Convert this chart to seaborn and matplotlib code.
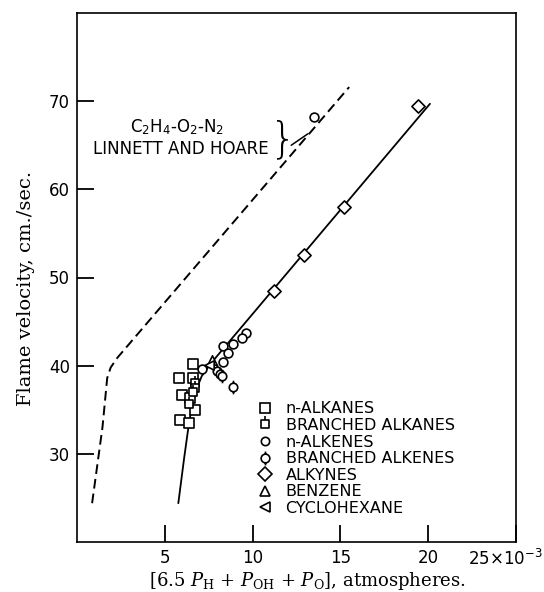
import numpy as np
import pandas as pd
import matplotlib
matplotlib.use("Agg")
import matplotlib.pyplot as plt
import matplotlib.transforms as mtransforms
from matplotlib.path import Path
from matplotlib.lines import Line2D
import seaborn as sns

# ---------------- data (x in 10^-3 atm, y in cm/sec) ----------------
lh_x = [0.86, 1.45, 1.72, 1.92, 2.3, 15.5]          # Linnett & Hoare C2H4-O2-N2 (dashed)
lh_y = [24.4, 33.0, 38.6, 39.8, 40.9, 71.6]
fit_x = [5.77, 6.1, 6.4, 6.7, 7.1, 7.6, 20.1]        # solid curve
fit_y = [24.4, 29.5, 33.8, 36.8, 38.8, 40.2, 69.7]

n_alkanes_x = [6.63, 5.83, 6.6, 6.0, 6.46, 6.7, 5.89, 6.4]
n_alkanes_y = [40.2, 38.6, 38.6, 36.7, 36.3, 35.0, 33.8, 33.5]
br_alkanes_x = [6.7, 6.74, 6.6, 6.35]
br_alkanes_y = [38.0, 37.5, 37.0, 35.7]
n_alkenes_x = [13.5, 9.6, 9.37, 8.9, 8.3, 8.6, 8.3, 7.14]
n_alkenes_y = [68.2, 43.7, 43.1, 42.5, 42.2, 41.4, 40.4, 39.6]
br_alkenes_x = [8.9, 8.0, 8.15, 8.25]
br_alkenes_y = [37.6, 39.4, 39.0, 38.8]
alkynes_x = [19.4, 15.2, 12.9, 11.2]
alkynes_y = [69.5, 58.0, 52.5, 48.5]
benzene_x = [7.7]
benzene_y = [40.6]
cyclohexane_x = [7.5]
cyclohexane_y = [40.1]

legend_labels = ["n-ALKANES", "BRANCHED ALKANES", "n-ALKENES", "BRANCHED ALKENES",
                 "ALKYNES", "BENZENE", "CYCLOHEXANE"]
xtick_vals = [5, 10, 15, 20, 25]
xtick_labels = ["5", "10", "15", "20", r"25$\mathsf{\times10^{-3}}$"]
ytick_vals = [30, 40, 50, 60, 70]

# ---------------- custom marker paths ----------------
M, L, C = Path.MOVETO, Path.LINETO, Path.CLOSEPOLY
sq = Path([(-1, -1), (1, -1), (1, 1), (-1, 1), (-1, -1)], [M, L, L, L, C])
br_sq = Path.make_compound_path(sq, Path([(0, 1), (0, 1.7)], [M, L]))
circ = Path.unit_circle()
br_circ = Path.make_compound_path(circ, Path([(0, 1), (0, 1.6)], [M, L]),
                                  Path([(0, -1), (0, -1.6)], [M, L]))

sns.set_style("white")
plt.rcParams["font.family"] = ["DejaVu Sans"]
plt.rcParams["mathtext.fontset"] = "dejavuserif"
plt.rcParams["text.color"] = "black"
plt.rcParams["axes.labelcolor"] = "black"

fig = plt.figure(figsize=(5.44, 5.92), dpi=100)
ax = fig.add_axes([77 / 544, 1 - 542 / 592, (516 - 77) / 544, (542 - 13) / 592])

# lines
sns.lineplot(x=lh_x, y=lh_y, sort=False, estimator=None, color="black",
             linewidth=1.4, ax=ax)
ax.lines[-1].set_dashes((5, 2.6))
sns.lineplot(x=fit_x, y=fit_y, sort=False, estimator=None, color="black",
             linewidth=1.3, ax=ax)

groups = [
    (n_alkanes_x, n_alkanes_y, "s", 42),
    (br_alkanes_x, br_alkanes_y, br_sq, 110),
    (n_alkenes_x, n_alkenes_y, "o", 40),
    (br_alkenes_x, br_alkenes_y, br_circ, 95),
    (alkynes_x, alkynes_y, "D", 45),
    (benzene_x, benzene_y, "^", 45),
    (cyclohexane_x, cyclohexane_y, "<", 45),
]
for gx, gy, mk, s in groups:
    sns.scatterplot(x=gx, y=gy, marker=mk, s=s, color="white", edgecolor="black",
                    linewidth=1.2, ax=ax, zorder=3)

ax.set_xlim(0, 25)
ax.set_ylim(20, 80)
ax.set_xticks(xtick_vals)
ax.set_xticklabels(xtick_labels)
ax.set_yticks(ytick_vals)
ax.set_yticklabels([str(v) for v in ytick_vals])
ax.tick_params(direction="in", length=12, width=1.3, labelsize=12, color="black",
               labelcolor="black", pad=5, bottom=True, left=True, top=False, right=False)
for sp in ax.spines.values():
    sp.set_visible(True)
    sp.set_color("black")
    sp.set_linewidth(1.2)

# shift the last x tick label left so it stays inside the figure
lab = ax.get_xticklabels()[-1]
lab.set_horizontalalignment("right")
lab.set_transform(lab.get_transform() + mtransforms.ScaledTranslation(27 / 100, 0, fig.dpi_scale_trans))

ax.set_ylabel("Flame velocity, cm./sec.", family="DejaVu Serif", fontsize=14)
ax.yaxis.set_label_coords(-0.095, 0.48)
ax.set_xlabel(r"[6.5 $P_{\mathrm{H}}$ + $P_{\mathrm{OH}}$ + $P_{\mathrm{O}}$], atmospheres.",
              family="DejaVu Serif", fontsize=13)
ax.xaxis.set_label_coords(0.525, -0.052)

# annotation
ax.text(5.71, 67.1, r"C$_\mathsf{2}$H$_\mathsf{4}$-O$_\mathsf{2}$-N$_\mathsf{2}$",
        ha="center", va="center", fontsize=12)
ax.text(5.9, 64.6, "LINNETT AND HOARE", ha="center", va="center", fontsize=12)
ax.text(11.75, 65.6, "}", ha="center", va="center", fontsize=30, fontweight="light")
ax.plot([12.2, 13.15], [65.0, 66.3], color="black", linewidth=1.1)

# legend
handles = [Line2D([], [], linestyle="none", marker=mk, markersize=ms,
                  markerfacecolor="white", markeredgecolor="black", markeredgewidth=1.2)
           for mk, ms in zip(["s", br_sq, "o", br_circ, "D", "^", "<"],
                             [6.5, 11, 6, 10, 7, 7, 7])]
leg = ax.legend(handles, legend_labels, loc="upper left", bbox_to_anchor=(0.395, 0.278),
                frameon=False, fontsize=11.5, handlelength=1.0, handletextpad=0.8,
                labelspacing=0.1, borderaxespad=0, labelcolor="black")

fig.savefig("out.png", dpi=100)
